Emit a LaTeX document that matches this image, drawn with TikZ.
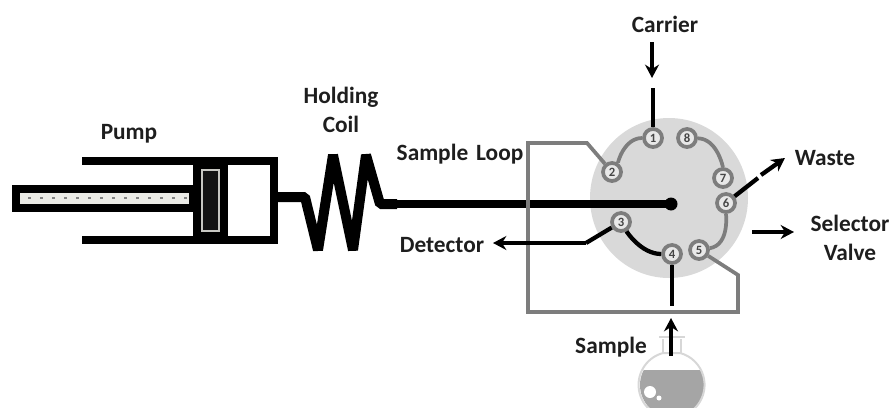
\documentclass[tikz,border=0pt]{standalone}
\usepackage{fontspec}
\setmainfont{Carlito}
\usetikzlibrary{arrows.meta}
\tikzset{every picture/.style={line width=0.75pt}}
\tikzset{
  label/.style={inner sep=0.75pt,align=center,font=\fontsize{17.5}{22}\selectfont\bfseries,color={rgb,255:red,30;green,30;blue,30}},
  port/.style={circle,draw={rgb,255:red,125;green,125;blue,125},line width=2.8,fill={rgb,255:red,232;green,232;blue,232},inner sep=0pt,minimum size=13.5pt,font=\fontsize{9.5}{9.5}\selectfont\bfseries,text={rgb,255:red,70;green,70;blue,70}},
  greyline/.style={draw={rgb,255:red,125;green,125;blue,125},line width=2.8},
  blackline/.style={draw=black,line width=3.2},
  flow/.style={draw=black,line width=3.2,-{Stealth[length=10pt,width=10.5pt]}}
}
\begin{document}
\begin{tikzpicture}[x=0.75pt,y=0.75pt,yscale=-1,xscale=1]
    \useasboundingbox (0,0) rectangle (892,407);

    %Shape: Valve body
    \draw [draw=none,fill={rgb,255:red,217;green,217;blue,217}] (669,198) ellipse (79 and 80);

    %Shape: Pump rod
    \draw [line width=6.5,fill={rgb,255:red,235;green,235;blue,230}] (16,189) rectangle (193,208);
    \draw [draw={rgb,255:red,130;green,130;blue,130},line width=1,dash pattern=on 2pt off 7pt] (28,198) -- (190,198);
    %Shape: Pump barrel
    \draw [line width=6.5,line cap=butt] (82,161) -- (274,161) -- (274,240) -- (82,240);
    %Shape: Piston
    \draw [draw=none,fill=black] (193,161) rectangle (228,240);
    \draw [draw={rgb,255:red,200;green,200;blue,195},line width=1.5,fill={rgb,255:red,20;green,20;blue,20}] (202,170) rectangle (219,231);

    %Straight Lines: coil
    \coordinate (coilstart) at (278,197);
    \coordinate (coilend) at (397,204);
    \coordinate (hub) at (671,204);
    \draw [line width=7.5,line join=bevel] (coilstart) -- (305,197) -- (318,250) -- (333,155) -- (353,250) -- (366,155) -- (380,204) -- (coilend);
    %Straight Lines: sample loop to hub
    \draw [line width=5.8] (coilend) -- (hub);
    \fill (hub) circle (6.5);

    % Ports
    \node (p1) [port] at (653,138) {1};
    \node (p2) [port] at (612,172) {2};
    \node (p3) [port] at (621,222) {3};
    \node (p4) [port] at (672,254) {4};
    \node (p5) [port] at (699,250) {5};
    \node (p6) [port] at (726,203) {6};
    \node (p7) [port] at (723,178) {7};
    \node (p8) [port] at (687,138) {8};

    %Curves between ports
    \draw [greyline] (p1) to [out=180,in=-80,looseness=0.9] (p2);
    \draw [greyline] (p8) to [out=5,in=-90,looseness=0.9] (p7);
    \draw [greyline] (p6) to [out=90,in=-25,looseness=0.9] (p5);
    \draw [blackline] (p3) to [out=80,in=180,looseness=0.9] (p4);

    %Straight Lines: grey loop
    \draw [greyline,line join=miter] (p2) -- (587,143) -- (528,143) -- (528,312) -- (738,312) -- (738,275) -- (p5);

    % Text Node
    \node (pump) [label] at (129,134) {Pump};
    \node (coil) [label] at (341,110) {Holding\\Coil};
    \node (loop) [label] at (460,154) {Sample\hspace{2pt} Loop};
    \node (detector) [label] at (442,245) {Detector};
    \node (carrier) [label] at (665,24) {Carrier};
    \node (waste) [label] at (825,158) {Waste};
    \node (selector) [label] at (850,238) {Selector\\Valve};
    \node (sample) [label] at (611,347) {Sample};

    %Straight Lines: free ends
    \coordinate (carrierfrom) at (652,42);
    \coordinate (carrierto) at (652,78);
    \coordinate (carrierstub) at (653,88);
    \coordinate (samplestub) at (672,306);
    \coordinate (detectorbend) at (586,243);
    \coordinate (detectorto) at (493,243);
    \coordinate (wastemid) at (758,178);
    \coordinate (wastegap) at (761,175);
    \coordinate (wasteto) at (785,158);
    \coordinate (selectorfrom) at (752,232);
    \coordinate (selectorto) at (794,232);
    \coordinate (samplefrom) at (671,356);
    \coordinate (sampleto) at (671,318);

    \draw [flow] (carrierfrom) -- (carrierto);
    \draw [blackline] (carrierstub) -- (p1);
    \draw [blackline] (p4) -- (samplestub);
    \draw [blackline] (p3) -- (detectorbend);
    \draw [flow] (detectorbend) -- (detectorto);
    \draw [blackline] (p6) -- (wastemid);
    \draw [flow] (wastegap) -- (wasteto);
    \draw [flow] (selectorfrom) -- (selectorto);

    %Shape: Flask
    \begin{scope}
      \clip (630,370) rectangle (710,407);
      \fill [color={rgb,255:red,165;green,165;blue,165}] (672,385) circle (32);
    \end{scope}
    \fill [white] (650,392) circle (6);
    \fill [white] (659,398) circle (2.5);
    \draw [draw={rgb,255:red,215;green,215;blue,215},line width=1.5] (663,353) -- (663,339) (681,339) -- (681,353);
    \draw [draw={rgb,255:red,215;green,215;blue,215},line width=1.5] (659,337) -- (685,337);
    \draw [draw={rgb,255:red,215;green,215;blue,215},line width=1.5] (663,353) arc [start angle=-105,end angle=-435,radius=33] -- cycle;
    \draw [flow] (samplefrom) -- (sampleto);

    \end{tikzpicture}
\end{document}
